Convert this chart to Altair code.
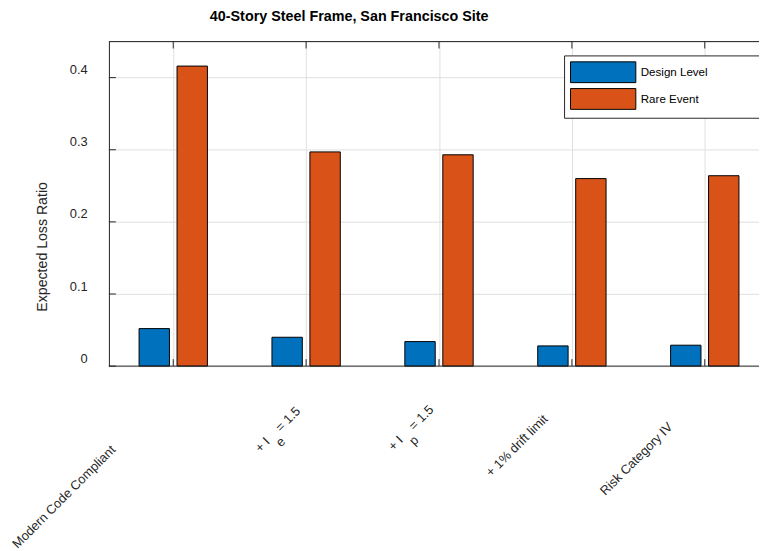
import json
import altair as alt
import pandas as pd

# ---------------- data ----------------
categories = ["Modern Code Compliant", "+ I_e = 1.5", "+ I_p = 1.5",
              "+ 1% drift limit", "Risk Category IV"]
series = ["Design Level", "Rare Event"]
design_level = [0.052, 0.040, 0.034, 0.028, 0.029]
rare_event = [0.416, 0.297, 0.293, 0.260, 0.264]
y_ticks = [0, 0.1, 0.2, 0.3, 0.4]
y_limits = [0, 0.45]
colors = ["#0072BD", "#D95319"]

# ---------------- layout / style ----------------
W, H = 657, 328
PAD = {"left": 102, "top": 31, "right": 0, "bottom": 190}
PX_PER_UNIT = 134.3
X_MIN = 1 - 65 / PX_PER_UNIT
x_dom = [X_MIN, X_MIN + W / PX_PER_UNIT]
FONT = "Liberation Sans"
DARK = "#262626"
GRID = "#dfdfdf"
NB = "\u00a0"
ZW = "\u200b"

# MATLAB grouped-bar geometry
group_width = min(0.8, 2 / (2 + 1.5))
bar_w = group_width / 2 * 0.8
offsets = [-group_width / 4, group_width / 4]

rows = []
for i, c in enumerate(categories):
    for s, vals, off in zip(series, [design_level, rare_event], offsets):
        pos = i + 1 + off
        rows.append({"category": c, "series": s, "value": vals[i],
                     "x0": pos - bar_w / 2, "x1": pos + bar_w / 2})
df = pd.DataFrame(rows)
pos_df = pd.DataFrame({"pos": list(range(1, len(categories) + 1))})
yt_df = pd.DataFrame({"v": y_ticks})
edge_df = pd.DataFrame({"edge": y_limits})


def display(label):
    if "_" in label:
        head, rest = label.split("_", 1)
        sub, tail = rest[0], rest[1:].strip()
        return [head.rstrip() + NB * 4 + tail, sub + NB * 9 + ZW]
    return label


label_expr = json.dumps([display(c) for c in categories]) + "[round(datum.value) - 1]"

# per-label placement (MATLAB-style staggered rotated labels)
label_dx = [-61, -8.4, -8, -27, -35]
label_pad = [82, 43, 41.5, 51, 59]


def cond(vals):
    return {"condition": [{"test": f"round(datum.value) == {i + 1}", "value": v}
                          for i, v in enumerate(vals)], "value": 0}


xs = alt.Scale(domain=x_dom, nice=False, zero=False)
ys = alt.Scale(domain=y_limits, nice=False, zero=True)

bottom_axis = alt.Axis(
    orient="bottom", values=list(range(1, len(categories) + 1)), labelExpr=label_expr,
    labelAngle=-45, labelAlign="right", labelBaseline="middle", labelFontSize=13,
    labelLineHeight=11,
    labelFont=FONT, labelColor=DARK, labelOffset=cond(label_dx), labelPadding=cond(label_pad),
    labelOverlap=False, labelFlush=False, labelLimit=0, ticks=False, tickSize=0,
    grid=True, gridColor=GRID, gridWidth=1, domain=False, title=None)

left_axis = alt.Axis(
    orient="left", values=y_ticks, format=".1~f", ticks=False, labelPadding=22,
    labelOffset=-8, labelFontSize=13, labelFont=FONT, labelColor=DARK,
    grid=True, gridColor=GRID, gridWidth=1, domainColor=DARK, domainWidth=1,
    title="Expected Loss Ratio", titleFontSize=14.3, titleFontWeight="normal",
    titleFont=FONT, titleColor=DARK, titleX=-67, titleY=207, titleAngle=270,
    titleAlign="center", titleBaseline="middle")

legend = alt.Legend(
    orient="none", legendX=460, legendY=14, direction="vertical", title=None,
    symbolType="M-3.143,-1H3.143V1H-3.143Z", symbolSize=441, symbolStrokeColor="black",
    symbolStrokeWidth=1, symbolOffset=22.5, symbolOpacity=1, labelOffset=27,
    labelFontSize=11.7, labelFont=FONT, labelColor="black",
    labelExpr="datum.label + '" + NB * 16 + ZW + "'",
    padding=6, rowPadding=1, strokeColor=DARK, fillColor="white", cornerRadius=0)

bars = alt.Chart(df).mark_bar(stroke="black", strokeWidth=1).encode(
    x=alt.X("x0:Q", scale=xs, axis=bottom_axis),
    x2="x1",
    y=alt.Y("value:Q", scale=ys, axis=left_axis),
    y2=alt.datum(0),
    color=alt.Color("series:N", scale=alt.Scale(domain=series, range=colors), legend=legend),
)

# box edges (top and bottom) of the axes
frame = alt.Chart(edge_df).mark_rule(color=DARK, strokeWidth=1).encode(
    y=alt.Y("edge:Q", scale=ys, axis=None),
    x=alt.value(0), x2=alt.value(W))

top_ticks = alt.Chart(pos_df).mark_rule(color=DARK, strokeWidth=1).encode(
    x=alt.X("pos:Q", scale=xs, axis=None),
    y=alt.value(0), y2=alt.value(7))

bottom_ticks = alt.Chart(pos_df).mark_rule(color=DARK, strokeWidth=1).encode(
    x=alt.X("pos:Q", scale=xs, axis=None),
    y=alt.value(H), y2=alt.value(H - 7))

left_ticks = alt.Chart(yt_df).mark_rule(color=DARK, strokeWidth=1).encode(
    y=alt.Y("v:Q", scale=ys, axis=None),
    x=alt.value(0), x2=alt.value(7))

chart = alt.layer(bars, frame, top_ticks, bottom_ticks, left_ticks).resolve_axis(
    x="independent", y="independent"
).properties(
    width=W, height=H,
    autosize=alt.AutoSizeParams(type="none"),
    padding=PAD,
    title=alt.TitleParams(
        text="40-Story Steel Frame, San Francisco Site", anchor="start", dx=102,
        fontSize=14.5, fontWeight="bold", font=FONT, color="black",
        baseline="alphabetic", offset=6, frame="group"),
).configure_view(stroke=None).configure(font=FONT, background="white")

chart.save("out.html", embed_options={"renderer": "svg", "actions": False})
